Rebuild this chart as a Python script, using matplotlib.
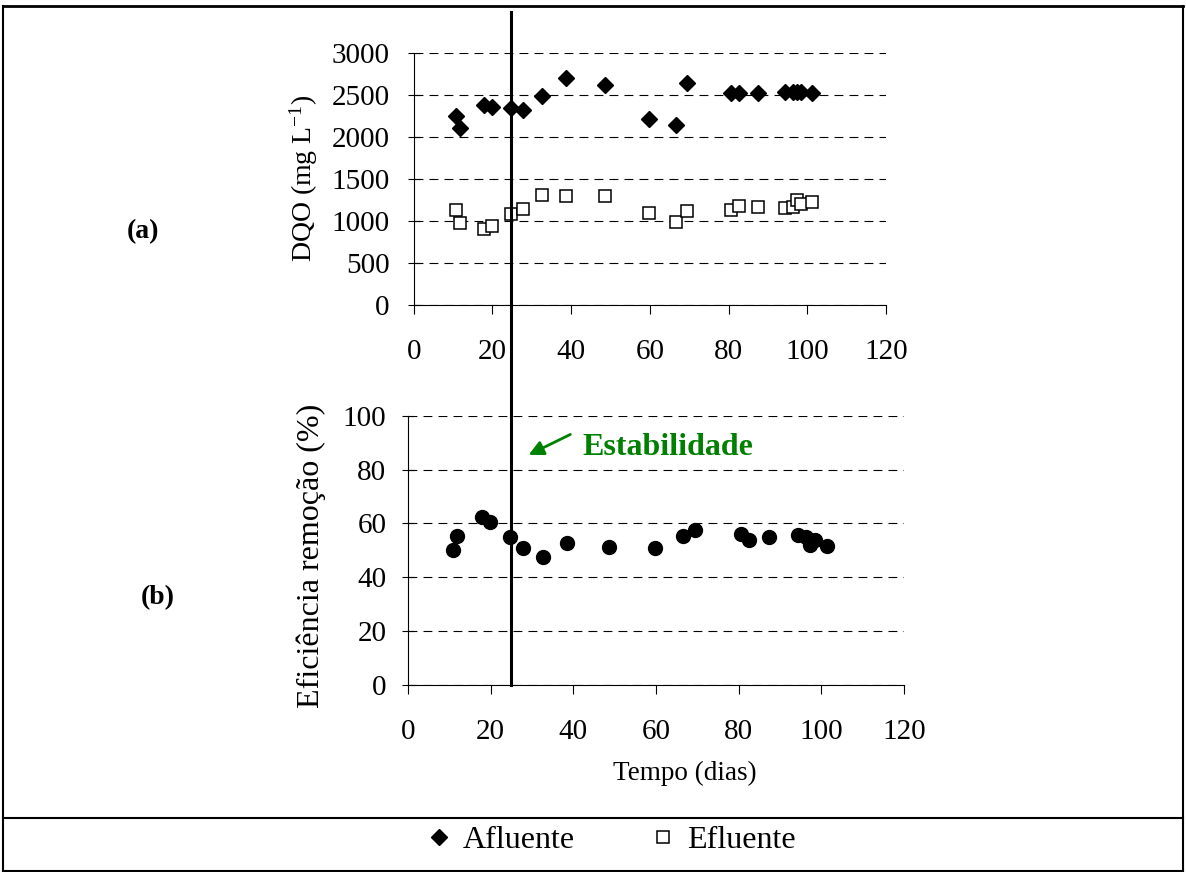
import matplotlib
matplotlib.use("Agg")
import matplotlib.pyplot as plt
from matplotlib.lines import Line2D

plt.rcParams['font.family'] = ['Liberation Serif', 'DejaVu Serif']
plt.rcParams['mathtext.fontset'] = 'custom'
plt.rcParams['mathtext.rm'] = 'Liberation Serif'
plt.rcParams['mathtext.it'] = 'Liberation Serif:italic'

# --------------------------------------------------
# 	data
# --------------------------------------------------
dias = [10.8, 11.8, 17.9, 19.9, 24.8, 27.8, 32.7, 38.6, 48.7, 59.7,
        66.6, 69.4, 80.5, 82.6, 87.4, 94.3, 96.3, 97.4, 98.4, 101.3]
afluente = [2247, 2108, 2378, 2350, 2339, 2322, 2485, 2695, 2620, 2211,
            2144, 2636, 2517, 2517, 2517, 2529, 2535, 2535, 2529, 2517]
efluente = [1130, 971, 900, 935, 1082, 1145, 1308, 1292, 1292, 1097,
            983, 1114, 1130, 1181, 1165, 1150, 1169, 1248, 1197, 1228]
eficiencia = [50.2, 55.2, 62.3, 60.7, 54.8, 50.8, 47.7, 52.8, 51.1, 50.7,
              55.3, 57.7, 56.0, 53.7, 54.8, 55.8, 55.1, 52.0, 53.8, 51.7]
dia_estabilidade = 25

x_ticks = [0, 20, 40, 60, 80, 100, 120]
dqo_ticks = [0, 500, 1000, 1500, 2000, 2500, 3000]
ef_ticks = [0, 20, 40, 60, 80, 100]

W, H = 1186, 872
FS = 21
verde = '#008000'

fig = plt.figure(figsize=(W / 100, H / 100), dpi=100)


def px_box(left, top, right, bottom):
	return [left / W, 1 - bottom / H, (right - left) / W, (bottom - top) / H]


def estilo(ax, ypad):
	for s in ['top', 'right']:
		ax.spines[s].set_visible(False)
	for s in ['left', 'bottom']:
		ax.spines[s].set_linewidth(0.8)
	ax.tick_params(axis='x', direction='out', length=6.5, width=0.8,
	               labelsize=FS, pad=18)
	ax.tick_params(axis='y', direction='inout', length=9, width=0.8,
	               labelsize=FS, pad=ypad)
	ax.yaxis.grid(True, color='black', linewidth=0.8, linestyle=(0, (8, 5.5)))
	ax.set_axisbelow(True)


# --------------------------------------------------
# 	(a) DQO
# --------------------------------------------------
ax1 = fig.add_axes(px_box(413.7, 52.7, 886, 305))
h_af, = ax1.plot(dias, afluente, 'D', color='black', markersize=8, linestyle='none')
h_ef, = ax1.plot(dias, efluente, 's', markerfacecolor='white', markeredgecolor='black',
                 markeredgewidth=1.1, markersize=9.2, linestyle='none')
ax1.set_xlim(0, 120)
ax1.set_ylim(0, 3000)
ax1.set_xticks(x_ticks)
ax1.set_yticks(dqo_ticks)
estilo(ax1, 13)
ax1.set_ylabel('DQO (mg L$^{\\mathrm{-1}}$)', fontsize=20, labelpad=8)

# --------------------------------------------------
# 	(b) eficiencia
# --------------------------------------------------
ax2 = fig.add_axes(px_box(408, 415.7, 903.8, 685))
ax2.plot(dias, eficiencia, 'o', color='black', markersize=10, linestyle='none')
ax2.set_xlim(0, 120)
ax2.set_ylim(0, 100)
ax2.set_xticks(x_ticks)
ax2.set_yticks(ef_ticks)
estilo(ax2, 11)
ax2.set_ylabel('Eficiência remoção (%)', fontsize=23)
ax2.yaxis.set_label_coords(-0.165, 0.48)
ax2.set_xlabel('Tempo (dias)', fontsize=19.5)
ax2.xaxis.set_label_coords(0.559, -0.282)

# stability line crossing both panels
ax2.axvline(dia_estabilidade, ymin=0, ymax=(685 - 12) / (685 - 415.7),
            clip_on=False, color='black', linewidth=2.2, zorder=5)
ax2.annotate('', xy=(28.6, 85.0), xytext=(39.9, 93.5),
             arrowprops=dict(arrowstyle='-|>', color=verde, lw=2, mutation_scale=22))
ax2.text(42.3, 85.4, 'Estabilidade', color=verde, fontsize=23, fontweight='bold',
         ha='left', va='baseline')

# panel letters
fig.text(143 / W, 1 - 232 / H, '(a)', fontsize=20, fontweight='bold', ha='center', va='center')
fig.text(158 / W, 1 - 598 / H, '(b)', fontsize=20, fontweight='bold', ha='center', va='center')

# --------------------------------------------------
# 	table border and legend
# --------------------------------------------------
def linha(x0, y0, x1, y1, lw=1.5):
	fig.add_artist(Line2D([x0 / W, x1 / W], [1 - y0 / H, 1 - y1 / H],
	                      transform=fig.transFigure, color='black', linewidth=lw))


linha(3, 6, 1183, 6, 2)
linha(3, 6, 3, 871)
linha(1183, 6, 1183, 871)
linha(3, 871, 1183, 871)
linha(3, 818, 1183, 818)

fig.legend([h_af, h_ef], ['Afluente', 'Efluente'], loc='center',
           bbox_to_anchor=(0.515, 1 - 840 / H), ncol=2, frameon=False, fontsize=23,
           numpoints=1, handlelength=0.8, handletextpad=0.35, columnspacing=2.35,
           markerscale=1.0)

plt.savefig('out.png', dpi=100)
